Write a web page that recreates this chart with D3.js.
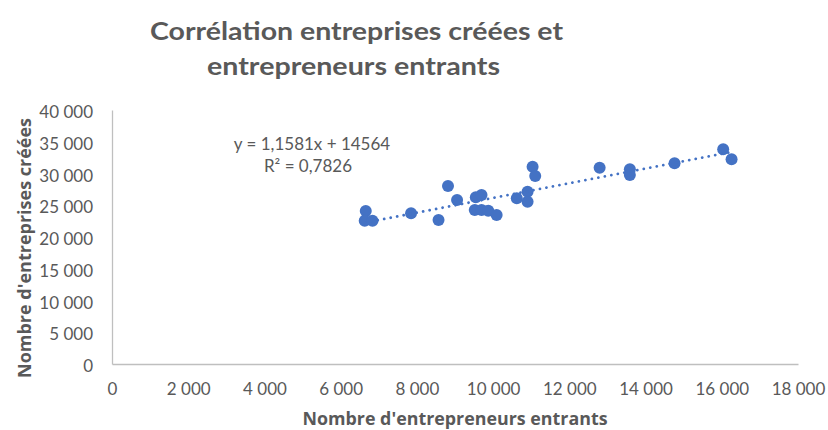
<!DOCTYPE html>
<html><head><meta charset="utf-8">
<script src="https://cdn.jsdelivr.net/npm/d3@7"></script>
<style>body{margin:0;background:#fff}svg{display:block}</style>
</head><body>
<script>
const entrepreneursEntrants = [6658,6631,6835,7847,8568,8816,9054,9546,9696,9519,9696,9873,10092,10621,10904,10904,11036,11105,12795,13588,13588,14761,16037,16257];
const entreprisesCreees   = [24094,22567,22567,23732,22677,28031,25827,26252,26614,24252,24252,24142,23465,26094,27134,25559,31071,29606,30913,30661,29764,31606,33811,32236];
const xTicks = [0,2000,4000,6000,8000,10000,12000,14000,16000,18000];
const yTicks = [0,5000,10000,15000,20000,25000,30000,35000,40000];
const trendSlope = 1.1581, trendIntercept = 14564, trendR2 = 0.7826;
const titleLines = ["Corrélation entreprises créées et","entrepreneurs entrants"];
const xTitle = "Nombre d'entrepreneurs entrants";
const yTitle = "Nombre d'entreprises créées";

const W=828,H=430;
const svg=d3.select("body").append("svg").attr("width",W).attr("height",H);
const x=d3.scaleLinear().domain([0,18000]).range([112,798]);
const y=d3.scaleLinear().domain([0,40000]).range([364,110]);
const fmt=v=>d3.format(",")(v).replace(/,/g," ");
const grey="#595959", font="Lato, 'Open Sans', sans-serif", boldFont="'Open Sans', Lato, sans-serif";

const titlePos=[{x:356.5,y:40,w:413},{x:353.5,y:75,w:293}];
svg.selectAll(".t").data(titleLines).join("text")
  .attr("x",(d,i)=>titlePos[i].x).attr("y",(d,i)=>titlePos[i].y).attr("text-anchor","middle")
  .attr("textLength",(d,i)=>titlePos[i].w).attr("lengthAdjust","spacingAndGlyphs")
  .attr("font-family",font).attr("font-weight","bold").attr("font-size",25).attr("fill",grey).text(d=>d);

const xa=svg.append("g").attr("transform","translate(0,364)").call(d3.axisBottom(x).tickValues(xTicks).tickFormat(fmt).tickSize(0).tickPadding(19));
const ya=svg.append("g").attr("transform","translate(112,0)").call(d3.axisLeft(y).tickValues(yTicks).tickFormat(fmt).tickSize(0).tickPadding(19));
[xa,ya].forEach(a=>{a.select(".domain").attr("stroke","#BFBFBF").attr("stroke-width",1.3);
  a.selectAll("text").attr("font-family",font).attr("font-size",17).attr("fill",grey);});
ya.selectAll("text").attr("dy","0.45em");

svg.append("text").attr("x",455).attr("y",425).attr("text-anchor","middle")
  .attr("textLength",305).attr("lengthAdjust","spacingAndGlyphs")
  .attr("font-family",boldFont).attr("font-weight","bold").attr("font-size",17).attr("fill",grey).text(xTitle);
svg.append("text").attr("transform","translate(31,248) rotate(-90)").attr("text-anchor","middle")
  .attr("textLength",260).attr("lengthAdjust","spacingAndGlyphs")
  .attr("font-family",boldFont).attr("font-weight","bold").attr("font-size",17).attr("fill",grey).text(yTitle);

const pts=entrepreneursEntrants.map((v,i)=>({x:v,y:entreprisesCreees[i]}));
svg.append("g").selectAll("circle").data(pts).join("circle")
  .attr("cx",d=>x(d.x)).attr("cy",d=>y(d.y)).attr("r",6).attr("fill","#4472C4");

const [x0,x1]=d3.extent(entrepreneursEntrants);
svg.append("line").attr("x1",x(x0)).attr("x2",x(x1))
  .attr("y1",y(trendSlope*x0+trendIntercept)).attr("y2",y(trendSlope*x1+trendIntercept))
  .attr("stroke","#4472C4").attr("stroke-width",2.8).attr("stroke-linecap","round").attr("stroke-dasharray","0.01 6.6");

const nf=v=>String(v).replace(".",",");
svg.append("text").attr("x",312).attr("y",150).attr("text-anchor","middle")
  .attr("font-family",font).attr("font-size",17).attr("fill",grey)
  .text(`y = ${nf(trendSlope)}x + ${trendIntercept}`);
svg.append("text").attr("x",308).attr("y",172).attr("text-anchor","middle")
  .attr("font-family",font).attr("font-size",17).attr("fill",grey)
  .text(`R² = ${nf(trendR2)}`);
</script>
</body></html>
